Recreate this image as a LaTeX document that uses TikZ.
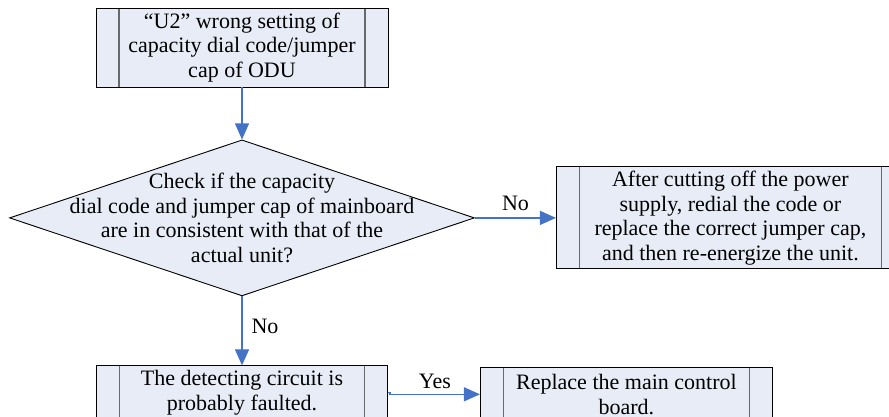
\documentclass[tikz,border=0pt]{standalone}
\usepackage{fontspec}
\setmainfont{Liberation Serif}
\usetikzlibrary{positioning,arrows.meta,shapes.geometric}
\definecolor{boxfill}{RGB}{231,236,247}
\definecolor{flowblue}{RGB}{68,114,196}
\definecolor{bargray}{RGB}{105,105,105}
\tikzset{
  proc/.style={draw, line width=0.9pt, fill=boxfill, inner sep=0pt, align=center, font=\fontsize{22}{24.5}\selectfont,
    path picture={\draw[bargray, line width=1.4pt]
      ([xshift=23pt]path picture bounding box.north west) -- ([xshift=23pt]path picture bounding box.south west)
      ([xshift=-23pt]path picture bounding box.north east) -- ([xshift=-23pt]path picture bounding box.south east);}},
  dec/.style={draw, diamond, line width=0.9pt, fill=boxfill, inner sep=0pt},
  arr/.style={-{Triangle[length=16pt,width=14pt]}, flowblue, line width=1.2pt},
  lbl/.style={font=\fontsize{22}{24.5}\selectfont, inner sep=0pt, text=black},
}
\begin{document}
\begin{tikzpicture}[x=1pt, y=-1pt]
\useasboundingbox (0,0) rectangle (889,417);
\clip (0,0) rectangle (889,417);
\node[proc, minimum width=292pt, minimum height=79pt] (ucode) at (242,47.5) {“U2” wrong setting of\\capacity dial code/jumper\\cap of ODU};
\node[dec, minimum width=465pt, minimum height=156pt, below=52pt of ucode,
  label={[lbl, align=center, name=checktxt]center:Check if the capacity\\dial code and jumper cap of mainboard\\are in consistent with that of the\\actual unit?}] (check) {};
\node[proc, minimum width=348pt, minimum height=102pt, right=81pt of check] (redial) {After cutting off the power\\supply, redial the code or\\replace the correct jumper cap,\\and then re-energize the unit.};
\node[proc, minimum width=291pt, minimum height=54pt, below=69pt of check] (circ) {The detecting circuit is\\probably faulted.};
\node[proc, minimum width=292pt, minimum height=54pt, right=92pt of circ, yshift=-1.5pt] (board) {Replace the main control\\board.};
\draw[arr] (ucode) -- (check);
\draw[arr] (check) -- node[lbl, above=7pt] (noright) {No} (redial);
\draw[arr] (check) -- node[lbl, right=9pt, yshift=4pt] (nodown) {No} (circ);
\draw[arr] (circ.east) -- ++(2,0) |- node[lbl, pos=0.75, above=5pt] (yes) {Yes} (board.west);
\end{tikzpicture}
\end{document}
